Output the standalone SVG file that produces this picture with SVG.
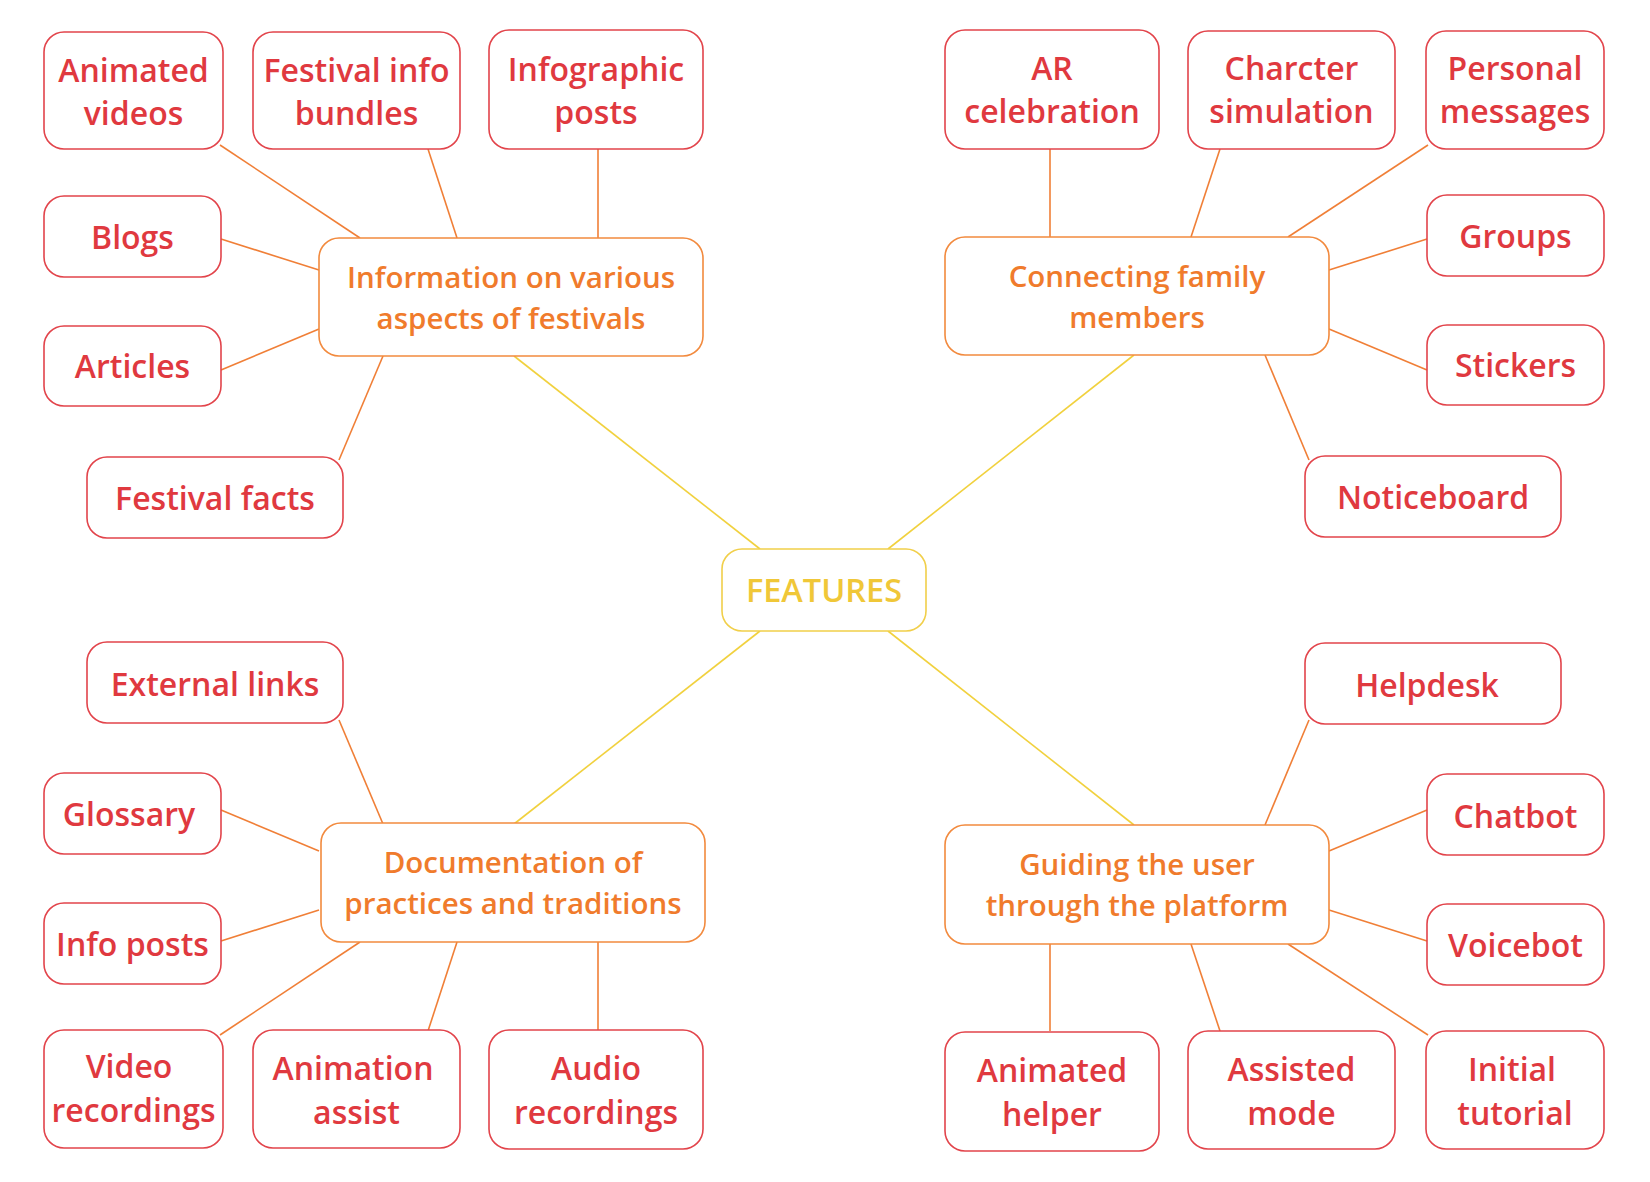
<svg xmlns="http://www.w3.org/2000/svg" width="1650" height="1182" viewBox="0 0 1650 1182">
<style>
.leaf rect{fill:#fff;stroke:#e2444b;stroke-width:1.6}
.leaf text{fill:#e0393f;font-family:"Open Sans","Noto Sans","Liberation Sans",sans-serif;font-size:32px;font-weight:600;text-anchor:middle}
.hub rect{fill:#fff;stroke:#f28a3e;stroke-width:1.6}
.hub text{fill:#f07b2c;font-family:"Open Sans","Noto Sans","Liberation Sans",sans-serif;font-size:29.5px;font-weight:600;text-anchor:middle}
.root rect{fill:#fff;stroke:#f1cf4a;stroke-width:1.6}
.root text{fill:#f0c738;font-family:"Open Sans","Noto Sans","Liberation Sans",sans-serif;font-size:32.5px;font-weight:600;text-anchor:middle}
.c1 line{stroke:#f07f37;stroke-width:1.6}
.c0 line{stroke:#f1d13e;stroke-width:1.6}
</style>
<g id="connectors">
<g class="c0">
<line x1="514" y1="356" x2="760" y2="549"/>
<line x1="1134" y1="355" x2="888" y2="549"/>
<line x1="514" y1="824" x2="760" y2="631"/>
<line x1="1134" y1="825" x2="888" y2="631"/>
</g>
<g class="c1">
<line x1="220" y1="145" x2="360" y2="238"/>
<line x1="428" y1="149" x2="457" y2="238"/>
<line x1="598" y1="149" x2="598" y2="238"/>
<line x1="221" y1="239" x2="319" y2="270"/>
<line x1="221" y1="370" x2="319" y2="329"/>
<line x1="339" y1="460" x2="383" y2="356"/>
<line x1="1428" y1="145" x2="1288" y2="237"/>
<line x1="1220" y1="149" x2="1191" y2="237"/>
<line x1="1050" y1="149" x2="1050" y2="237"/>
<line x1="1427" y1="239" x2="1329" y2="270"/>
<line x1="1427" y1="370" x2="1329" y2="329"/>
<line x1="1309" y1="460" x2="1265" y2="355"/>
<line x1="220" y1="1035" x2="360" y2="942"/>
<line x1="428" y1="1031" x2="457" y2="942"/>
<line x1="598" y1="1031" x2="598" y2="942"/>
<line x1="221" y1="810" x2="319" y2="851"/>
<line x1="221" y1="941" x2="319" y2="910"/>
<line x1="339" y1="720" x2="383" y2="824"/>
<line x1="1428" y1="1035" x2="1288" y2="944"/>
<line x1="1220" y1="1031" x2="1191" y2="944"/>
<line x1="1050" y1="1031" x2="1050" y2="944"/>
<line x1="1427" y1="810" x2="1329" y2="851"/>
<line x1="1427" y1="941" x2="1329" y2="910"/>
<line x1="1309" y1="720" x2="1265" y2="825"/>
</g>
</g>

<g id="features" class="root"><rect x="722" y="549" width="204" height="82" rx="20"/><text x="824" y="602">FEATURES</text></g>

<g id="info" class="hub"><rect x="319" y="238" width="384" height="118" rx="20"/><text x="511" y="288">Information on various</text><text x="511" y="329">aspects of festivals</text></g>
<g id="connecting" class="hub"><rect x="945" y="237" width="384" height="118" rx="20"/><text x="1137" y="287">Connecting family</text><text x="1137" y="328">members</text></g>
<g id="documentation" class="hub"><rect x="321" y="823" width="384" height="119" rx="20"/><text x="513" y="873">Documentation of</text><text x="513" y="914">practices and traditions</text></g>
<g id="guiding" class="hub"><rect x="945" y="825" width="384" height="119" rx="20"/><text x="1137" y="875">Guiding the user</text><text x="1137" y="916">through the platform</text></g>

<g id="animated-videos" class="leaf"><rect x="44" y="32" width="179" height="117" rx="20"/><text x="133.5" y="82">Animated</text><text x="133.5" y="125">videos</text></g>
<g id="festival-info-bundles" class="leaf"><rect x="253" y="32" width="207" height="117" rx="20"/><text x="356.5" y="82">Festival info</text><text x="356.5" y="125">bundles</text></g>
<g id="infographic-posts" class="leaf"><rect x="489" y="30" width="214" height="119" rx="20"/><text x="596" y="81">Infographic</text><text x="596" y="124">posts</text></g>
<g id="blogs" class="leaf"><rect x="44" y="196" width="177" height="81" rx="20"/><text x="132.5" y="249">Blogs</text></g>
<g id="articles" class="leaf"><rect x="44" y="326" width="177" height="80" rx="20"/><text x="132.5" y="378">Articles</text></g>
<g id="festival-facts" class="leaf"><rect x="87" y="457" width="256" height="81" rx="20"/><text x="215" y="510">Festival facts</text></g>

<g id="ar-celebration" class="leaf"><rect x="945" y="30" width="214" height="119" rx="20"/><text x="1052" y="80">AR</text><text x="1052" y="123">celebration</text></g>
<g id="charcter-simulation" class="leaf"><rect x="1188" y="31" width="207" height="118" rx="20"/><text x="1291.5" y="80">Charcter</text><text x="1291.5" y="123">simulation</text></g>
<g id="personal-messages" class="leaf"><rect x="1426" y="31" width="178" height="118" rx="20"/><text x="1515" y="80">Personal</text><text x="1515" y="123">messages</text></g>
<g id="groups" class="leaf"><rect x="1427" y="195" width="177" height="81" rx="20"/><text x="1515.5" y="248">Groups</text></g>
<g id="stickers" class="leaf"><rect x="1427" y="325" width="177" height="80" rx="20"/><text x="1515.5" y="377">Stickers</text></g>
<g id="noticeboard" class="leaf"><rect x="1305" y="456" width="256" height="81" rx="20"/><text x="1433" y="509">Noticeboard</text></g>

<g id="external-links" class="leaf"><rect x="87" y="642" width="256" height="81" rx="20"/><text x="215" y="696">External links</text></g>
<g id="glossary" class="leaf"><rect x="44" y="773" width="177" height="81" rx="20"/><text x="129" y="826">Glossary</text></g>
<g id="info-posts" class="leaf"><rect x="44" y="903" width="177" height="81" rx="20"/><text x="132.5" y="956">Info posts</text></g>
<g id="video-recordings" class="leaf"><rect x="44" y="1030" width="179" height="118" rx="20"/><text x="129" y="1078">Video</text><text x="133.5" y="1122">recordings</text></g>
<g id="animation-assist" class="leaf"><rect x="253" y="1030" width="207" height="118" rx="20"/><text x="353" y="1080">Animation</text><text x="356.5" y="1124">assist</text></g>
<g id="audio-recordings" class="leaf"><rect x="489" y="1030" width="214" height="119" rx="20"/><text x="596" y="1080">Audio</text><text x="596" y="1124">recordings</text></g>

<g id="helpdesk" class="leaf"><rect x="1305" y="643" width="256" height="81" rx="20"/><text x="1427" y="697">Helpdesk</text></g>
<g id="chatbot" class="leaf"><rect x="1427" y="774" width="177" height="81" rx="20"/><text x="1515.5" y="828">Chatbot</text></g>
<g id="voicebot" class="leaf"><rect x="1427" y="904" width="177" height="81" rx="20"/><text x="1515.5" y="957">Voicebot</text></g>
<g id="animated-helper" class="leaf"><rect x="945" y="1032" width="214" height="119" rx="20"/><text x="1052" y="1082">Animated</text><text x="1052" y="1126">helper</text></g>
<g id="assisted-mode" class="leaf"><rect x="1188" y="1031" width="207" height="118" rx="20"/><text x="1291.5" y="1081">Assisted</text><text x="1291.5" y="1125">mode</text></g>
<g id="initial-tutorial" class="leaf"><rect x="1426" y="1031" width="178" height="118" rx="20"/><text x="1512" y="1081">Initial</text><text x="1515" y="1125">tutorial</text></g>
</svg>
